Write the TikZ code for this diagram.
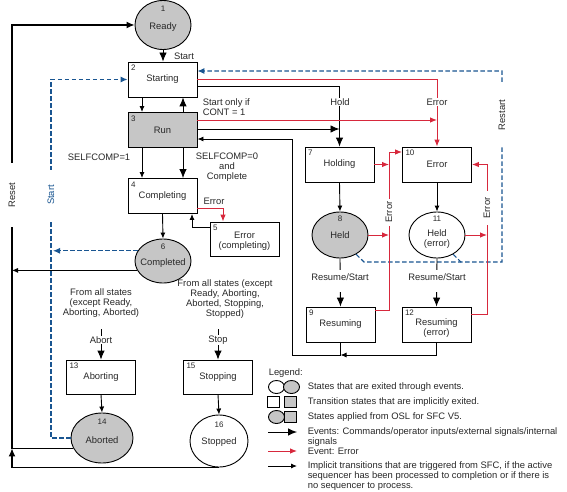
\documentclass[tikz,border=0pt]{standalone}
\usepackage{fontspec}
\setmainfont{Liberation Sans}
\usetikzlibrary{arrows.meta,shapes.geometric}
\definecolor{stgray}{RGB}{198,198,198}
\definecolor{stblue}{RGB}{25,85,145}
\definecolor{stred}{RGB}{215,40,60}
\definecolor{sttext}{RGB}{40,40,40}
\begin{document}
\begin{tikzpicture}[x=1pt,y=-1pt,
  font=\fontsize{9.4}{10}\selectfont,
  every node/.style={text=sttext},
  line width=0.9pt,
  stbox/.style={draw=black, rectangle, minimum width=69pt, minimum height=35pt, inner sep=0pt, align=center},
  stell/.style={draw=black, ellipse, inner sep=0pt},
  grayfill/.style={fill=stgray},
  num/.style={font=\fontsize{8}{8}\selectfont, inner sep=0pt},
  big/.style={-{Latex[length=9pt,width=7.5pt]}},
  sm/.style={-{Latex[length=6pt,width=5pt]}},
  redarr/.style={stred, -{Latex[length=7pt,width=5.5pt]}},
  bluedash/.style={stblue, line width=1.1pt, dash pattern=on 4.5pt off 2.5pt},
  bluearr/.style={bluedash, -{Latex[length=7pt,width=6pt]}},
  gap/.style={fill=white, inner sep=1pt},
  resetline/.style={line width=1.3pt},
]
\useasboundingbox (0,0) rectangle (567,492);

% helper coordinates
\coordinate (rst) at (12,0);
\coordinate (bl) at (51,0);
\coordinate (bltip) at (53,0);
\coordinate (rx1) at (389,0);
\coordinate (rx2) at (487,0);
\coordinate (bx) at (502,262);
\coordinate (bxt) at (502,71);
\coordinate (retx) at (292,355);
\coordinate (abortsrc) at (101,329);
\coordinate (stopsrc) at (218,329);

% ---------- states ----------
\node[stell, grayfill, minimum width=56pt, minimum height=49pt] (ready) at (163,25) {};
\node[num] at (163,9) {1};
\node at (163,27) {Ready};

\node[stbox] (starting) at (162.5,79.5) {Starting};
\node[num, anchor=north west] at ([shift={(3,3)}]starting.north west) {2};

\node[stbox, grayfill] (run) at (162.5,130) {Run};
\node[num, anchor=north west] at ([shift={(3,3)}]run.north west) {3};

\node[stbox] (completing) at (162.5,196) {Completing};
\node[num, anchor=north west] at ([shift={(3,3)}]completing.north west) {4};

\node[stbox, minimum height=34pt] (errc) at (244.5,239) {};
\node[align=center] at (244.5,241) {Error\\(completing)};
\node[num, anchor=north west] at ([shift={(3,3)}]errc.north west) {5};

\node[stell, grayfill, minimum width=56pt, minimum height=44pt] (completed) at (163,261) {};
\node[num] at (163,247) {6};
\node at (163,263) {Completed};

\node[stbox] (holding) at (339.5,164.5) {Holding};
\node[num, anchor=north west] at ([shift={(3,3)}]holding.north west) {7};

\node[stbox] (error10) at (437,164.5) {Error};
\node[num, anchor=north west] at ([shift={(3,3)}]error10.north west) {10};

\node[stell, grayfill, minimum width=56pt, minimum height=46pt] (held8) at (340,235) {};
\node[num] at (340,219) {8};
\node at (340,235) {Held};

\node[stell, minimum width=56pt, minimum height=46pt] (held11) at (437,235) {};
\node[num] at (437,219) {11};
\node[align=center] at (437,239) {Held\\(error)};

\node[stbox] (resuming9) at (340.5,324.5) {Resuming};
\node[num, anchor=north west] at ([shift={(3,3)}]resuming9.north west) {9};

\node[stbox] (resuming12) at (436.5,324.5) {};
\node[align=center] at (436.5,328) {Resuming\\(error)};
\node[num, anchor=north west] at ([shift={(3,3)}]resuming12.north west) {12};

\node[stbox, minimum height=34pt] (aborting) at (101,377) {Aborting};
\node[num, anchor=north west] at ([shift={(3,3)}]aborting.north west) {13};

\node[stell, grayfill, minimum width=62pt, minimum height=50pt] (aborted) at (102,438) {};
\node[num] at (102,422) {14};
\node at (102,440) {Aborted};

\node[stbox, minimum height=34pt] (stopping) at (218,377) {Stopping};
\node[num, anchor=north west] at ([shift={(3,3)}]stopping.north west) {15};

\node[stell, minimum width=58pt, minimum height=52pt] (stopped) at (219,441) {};
\node[num] at (219,425) {16};
\node at (219,442) {Stopped};

% derived coordinates
\coordinate (stE) at ([yshift=-6.5pt]starting.east);
\coordinate (stB) at ([yshift=8.5pt]starting.east);
\coordinate (runR) at ([yshift=10pt]run.east);
\coordinate (runH) at ([yshift=1pt]run.east);
\coordinate (runI) at ([yshift=-9pt]run.east);
\coordinate (r9a) at ([yshift=14.5pt]resuming9.east);
\coordinate (e10a) at ([yshift=12.5pt]error10.west);
\coordinate (r12a) at ([yshift=10.5pt]resuming12.east);

% ---------- left column connectors ----------
\draw[big] (ready.south) -- (ready.south |- starting.north);
\node at (184,56) {Start};

\draw[sm] ([xshift=-20.5pt]starting.south) -- ([xshift=-20.5pt]run.north);
\draw[big] ([xshift=20.5pt]run.north) -- ([xshift=20.5pt]starting.south);
\node[anchor=west, align=left] at (199,107.5) {Start only if\\CONT = 1};

\draw[sm] ([xshift=-20.5pt]run.south) -- ([xshift=-20.5pt]completing.north);
\draw[big] ([xshift=20.5pt]run.south) -- ([xshift=20.5pt]completing.north);
\node[anchor=east] at (134,157) {SELFCOMP=1};
\node[align=center] at (227,167) {SELFCOMP=0\\and\\Complete};

\draw[redarr] ([yshift=-12pt]completing.east) -| ([xshift=-21.5pt]errc.north);
\node at (214,201) {Error};
\draw[sm] ([yshift=-6pt]errc.north west) -| ([xshift=29.5pt]completing.south);

\draw[sm] (completing.south) -- (completed.north);

% completed -> start (dashed) and -> reset line
\draw[bluearr] (completed.158) -- (completed.158 -| bltip);
\draw[sm] (completed.200) -- (completed.200 -| rst);

% blue "Start" line from Aborted to Starting
\draw[bluearr] (aborted.west) -- (aborted.west -| bl) -- (bl |- starting.west) -- (starting.west);
\node[gap, rotate=90, minimum width=50pt, text=stblue] at (51,195) {Start};

% Reset line
\draw[resetline, -{Latex[length=8pt,width=7pt]}] (aborted.200) -- (aborted.200 -| rst) -- (rst |- ready.west) -- (ready.west);
\draw[resetline, -{Latex[length=8pt,width=7pt]}] (stopped.south) -| (aborted.200 -| rst);
\node[gap, rotate=90, minimum width=64pt] at (12,195) {Reset};

% Abort / Stop
\node[align=center] at (101,303) {From all states\\(except Ready,\\Aborting, Aborted)};
\draw[big] (abortsrc) -- (aborting.north);
\node[gap, inner sep=0.5pt] at (101,340) {Abort};
\draw[sm] (aborting.south) -- (aborted.north);

\node[align=center] at (225,299) {From all states (except\\Ready, Aborting,\\Aborted, Stopping,\\Stopped)};
\draw[big] (stopsrc) -- (stopping.north);
\node[gap, inner sep=0.5pt] at (218,340) {Stop};
\draw[sm] (stopping.south) -- (stopped.north);

% ---------- right side connectors ----------
% restart (dashed)
\draw[bluearr] (held8.-50) -- (364,262) -- (bx) -- (bxt) -- (stB);
\draw[bluedash] (held11.-50) -- ++(8,8);
\node[gap, rotate=90, minimum width=64pt] at (502,115) {Restart};

% Starting -> Error (red), Starting -> Holding (Hold)
\draw[redarr] (starting.east) -| (error10.north);
\draw[big] (stE) -| (holding.north);
\node[gap] at (437,102) {Error};
\node[gap] at (340,102) {Hold};

% Run -> Error, Run -> Holding
\draw[redarr] (runR) -- (runR -| error10.north);
\draw[big] (runH) -- (runH -| holding.north);

% Holding/Error downwards
\draw[sm] (holding.south) -- (held8.north);
\draw[sm] (error10.south) -- (held11.north);

% Resume/Start
\draw[big] (held8.south) -- (resuming9.north);
\draw[big] (held11.south) -- (resuming12.north);
\node[fill=white, inner xsep=1pt, inner ysep=0pt, text height=10pt, text depth=12pt] at (340,281) {Resume/Start};
\node[fill=white, inner xsep=1pt, inner ysep=0pt, text height=10pt, text depth=12pt] at (437,281) {Resume/Start};

% Resuming -> Run
\draw[sm] (resuming12.south) |- (resuming9.south |- retx);
\draw[sm] (resuming9.south) |- (retx) |- (runI);

% red error lines, left
\draw[redarr] (r9a) -- (r9a -| rx1) -- (rx1 |- e10a) -- (e10a);
\draw[redarr] (holding.east) -- (holding.east -| rx1);
\draw[redarr] (held8.east) -- (held8.east -| rx1);
\node[gap, rotate=90, minimum width=27pt] at (389,212) {Error};

% red error lines, right
\draw[redarr] (r12a) -- (r12a -| rx2) -- (rx2 |- error10.east) -- (error10.east);
\draw[redarr] (held11.east) -- (held11.east -| rx2);
\node[gap, rotate=90, minimum width=34pt] at (487,208) {Error};

% ---------- legend ----------
\node[anchor=west] at (265,373) {Legend:};
\node[stell, minimum width=16pt, minimum height=13pt] (lg1) at (276.5,387) {};
\node[stell, grayfill, minimum width=16pt, minimum height=13pt] (lg2) at (291.5,387) {};
\node[anchor=west] at (304,387) {States that are exited through events.};
\node[draw=black, minimum width=12pt, minimum height=11pt, inner sep=0pt] (lg3) at (273.5,402) {};
\node[draw=black, grayfill, minimum width=12pt, minimum height=11pt, inner sep=0pt] (lg4) at (290.5,402) {};
\node[anchor=west] at (304,402) {Transition states that are implicitly exited.};
\node[stell, grayfill, minimum width=16pt, minimum height=13pt] (lg5) at (276.5,417) {};
\node[draw=black, grayfill, minimum width=12pt, minimum height=11pt, inner sep=0pt] (lg6) at (290.5,417) {};
\node[anchor=west] at (304,417) {States applied from OSL for SFC V5.};
\coordinate (la1) at (268,432); \coordinate (la2) at (297,432);
\coordinate (la3) at (268,451); \coordinate (la4) at (297,451);
\coordinate (la5) at (268,466); \coordinate (la6) at (297,466);
\draw[big] (la1) -- (la2);
\node[anchor=west, align=left] at (304,437) {Events: Commands/operator inputs/external signals/internal\\signals};
\draw[redarr] (la3) -- (la4);
\node[anchor=west] at (304,451) {Event: Error};
\draw[sm] (la5) -- (la6);
\node[anchor=west, align=left] at (304,476) {Implicit transitions that are triggered from SFC, if the active\\sequencer has been processed to completion or if there is\\no sequencer to process.};
\end{tikzpicture}
\end{document}
